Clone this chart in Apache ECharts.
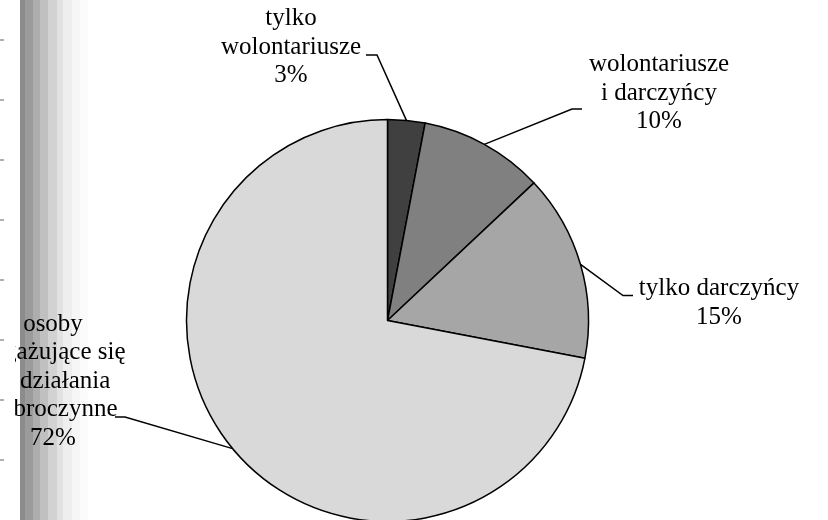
<!DOCTYPE html>
<html>
<head>
<meta charset="utf-8">
<script src="https://cdn.jsdelivr.net/npm/echarts@6/dist/echarts.min.js"></script>
<style>
  html, body { margin: 0; padding: 0; background: #fff; }
  #chart { width: 828px; height: 520px; }
</style>
</head>
<body>
<div id="chart"></div>
<script>
// dane wykresu
const categories = [
  'tylko\nwolontariusze',
  'wolontariusze\ni darczyńcy',
  'tylko darczyńcy',
  'osoby\nangażujące się\nw działania\ndobroczynne'
]
const shares = [3, 10, 15, 72]
const sliceColors = ['#404040', '#808080', '#a6a6a6', '#d9d9d9']

const myChart = echarts.init(document.getElementById('chart'))

// pasek z lewej strony (skan strony)
const bands = [
  [20, 5, '#8c8c8c'], [25, 8, '#9b9b9b'], [33, 7, '#adadad'],
  [40, 8, '#c0c0c0'], [48, 9, '#d2d2d2'], [57, 6, '#e2e2e2'],
  [63, 9, '#eeeeee'], [72, 8, '#f6f6f6'], [80, 8, '#fbfbfb']
]
const graphic = bands.map(b => ({
  type: 'rect',
  shape: { x: b[0], y: 0, width: b[1], height: 520 },
  style: { fill: b[2] },
  silent: true
}))
// obcięcie tekstu przy lewej krawędzi
graphic.push({
  type: 'rect',
  z: 100,
  shape: { x: 0, y: 0, width: 15, height: 520 },
  style: { fill: '#fff' },
  silent: true
})
for (let y = 40; y < 520; y += 60) {
  graphic.push({
    type: 'rect',
    z: 101,
    shape: { x: 0, y: y - 1, width: 4, height: 2 },
    style: { fill: '#b0b0b0' },
    silent: true
  })
}

// położenie etykiet: [środek tekstu, kolanko linii, koniec linii]
const labelPlaces = [
  { x: 291, y: 47, elbow: [377, 55], end: [366, 55] },
  { x: 659, y: 93, elbow: [572, 109], end: [582, 109] },
  { x: 719, y: 303, elbow: [623, 295.5], end: [633, 295.5] },
  { x: 53, y: 381, elbow: [125, 417], end: [115, 417] }
]

myChart.setOption({
  animation: false,
  graphic: graphic,
  series: [
    {
      type: 'pie',
      center: [387.5, 320.5],
      radius: 201,
      startAngle: 90,
      clockwise: true,
      avoidLabelOverlap: false,
      itemStyle: {
        borderColor: '#000',
        borderWidth: 1.5
      },
      label: {
        show: true,
        position: 'outside',
        color: '#000',
        fontFamily: 'Liberation Serif',
        fontSize: 25,
        lineHeight: 28.5,
        align: 'center',
        formatter: p => p.name + '\n' + p.value + '%'
      },
      labelLine: {
        show: true,
        length: 20,
        length2: 10,
        lineStyle: {
          color: '#000',
          width: 1.5
        }
      },
      labelLayout: function (params) {
        const place = labelPlaces[params.dataIndex]
        const start = params.labelLinePoints
          ? params.labelLinePoints[0]
          : place.elbow
        return {
          x: place.x,
          y: place.y,
          align: 'center',
          verticalAlign: 'middle',
          labelLinePoints: [start, place.elbow, place.end]
        }
      },
      emphasis: { disabled: true },
      data: categories.map((name, i) => ({
        name: name,
        value: shares[i],
        itemStyle: { color: sliceColors[i] }
      }))
    }
  ]
})
</script>
</body>
</html>
